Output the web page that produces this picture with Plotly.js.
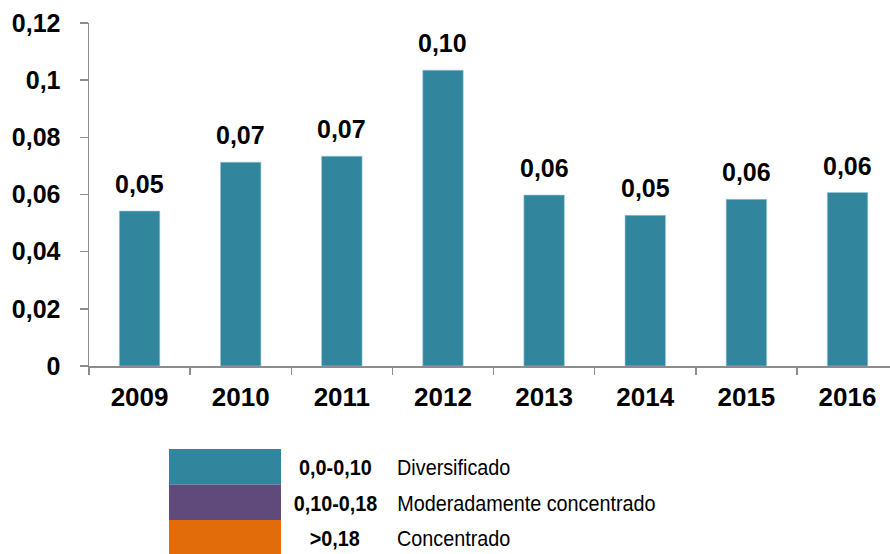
<!DOCTYPE html>
<html>
<head>
<meta charset="utf-8">
<script src="https://cdn.plot.ly/plotly-3.0.1.min.js"></script>
<style>html,body{margin:0;padding:0;background:#fff;}#chart{width:890px;height:554px;}</style>
</head>
<body>
<div id="chart"></div>
<script>
const years = ['2009','2010','2011','2012','2013','2014','2015','2016'];
const values = [0.0542, 0.0713, 0.0734, 0.1035, 0.0598, 0.0527, 0.0583, 0.0607];
const yTickVals = [0, 0.02, 0.04, 0.06, 0.08, 0.1, 0.12];
const yTickText = ['0', '0,02', '0,04', '0,06', '0,08', '0,1', '0,12'];
const legendRanges = ['0,0-0,10', '0,10-0,18', '>0,18'];
const legendNames = ['Diversificado', 'Moderadamente concentrado', 'Concentrado'];
const legendColors = ['#31859C', '#604A7B', '#E36C0A'];

const W = 890, H = 554;
const M = {l: 89, r: 0, t: 23, b: 188};
const PW = W - M.l - M.r, PH = H - M.t - M.b;
const px = x => (x - M.l) / PW;
const py = y => (H - M.b - y) / PH;

const fam = 'Liberation Sans, Arial, sans-serif';
const bold = size => ({family: fam, size: size, color: '#000', weight: 700});

const fmt = v => v.toFixed(2).replace('.', ',');

const annotations = years.map((y, i) => ({
  x: i, y: values[i], xref: 'x', yref: 'y',
  text: fmt(values[i]), showarrow: false,
  yanchor: 'bottom', yshift: 11,
  font: bold(25)
}));

const nData = annotations.length;
const shapes = [];
const rowTop = 449, rowH = 35.5;
legendRanges.forEach((r, i) => {
  const top = rowTop + i * rowH, bot = top + rowH;
  shapes.push({type: 'rect', xref: 'paper', yref: 'paper',
    x0: px(169), x1: px(281), y0: py(bot), y1: py(top),
    fillcolor: legendColors[i], line: {width: 0}, layer: 'above'});
  const cy = py((top + bot) / 2 + 1);
  annotations.push({xref: 'paper', yref: 'paper', x: px(335), y: cy,
    xanchor: 'center', yanchor: 'middle', showarrow: false, text: r,
    font: bold(22)});
  annotations.push({xref: 'paper', yref: 'paper', x: px(395), y: cy,
    xanchor: 'left', yanchor: 'middle', showarrow: false, text: legendNames[i],
    font: {family: fam, size: 22, color: '#000'}});
});

const data = [{
  type: 'bar', x: years, y: values,
  marker: {color: legendColors[0], line: {color: '#9cc9d6', width: 0.6}},
  width: 0.4, hoverinfo: 'skip'
}];

const layout = {
  width: W, height: H,
  margin: M,
  paper_bgcolor: '#fff', plot_bgcolor: '#fff',
  showlegend: false,
  xaxis: {
    type: 'category', range: [-0.5, 7.42],
    showline: true, linecolor: '#8c8c8c', linewidth: 1.5,
    ticks: 'outside', ticklen: 7, tickcolor: '#8c8c8c', tickwidth: 1.5,
    tickson: 'boundaries', showgrid: false, zeroline: false,
    tickfont: bold(26), ticklabelstandoff: 7
  },
  yaxis: {
    range: [0, 0.12], tickvals: yTickVals, ticktext: yTickText,
    showline: true, linecolor: '#8c8c8c', linewidth: 1.5,
    ticks: 'outside', ticklen: 8, tickcolor: '#8c8c8c', tickwidth: 1.5,
    showgrid: false, zeroline: false,
    tickfont: bold(25), ticklabelstandoff: 14
  },
  annotations: annotations,
  shapes: shapes
};

Plotly.newPlot('chart', data, layout, {staticPlot: true, displayModeBar: false}).then(gd => {
  // narrow the legend text horizontally to mimic the condensed face of the original
  gd.querySelectorAll('g.annotation').forEach(g => {
    const idx = +g.getAttribute('data-index');
    if (idx < nData) return;
    const t = g.querySelector('text.annotation-text');
    if (!t) return;
    const isRange = (idx - nData) % 2 === 0;
    t.style.transformBox = 'fill-box';
    t.style.transformOrigin = isRange ? 'center center' : 'left center';
    t.style.transform = 'scaleX(0.9)';
  });
});
</script>
</body>
</html>
